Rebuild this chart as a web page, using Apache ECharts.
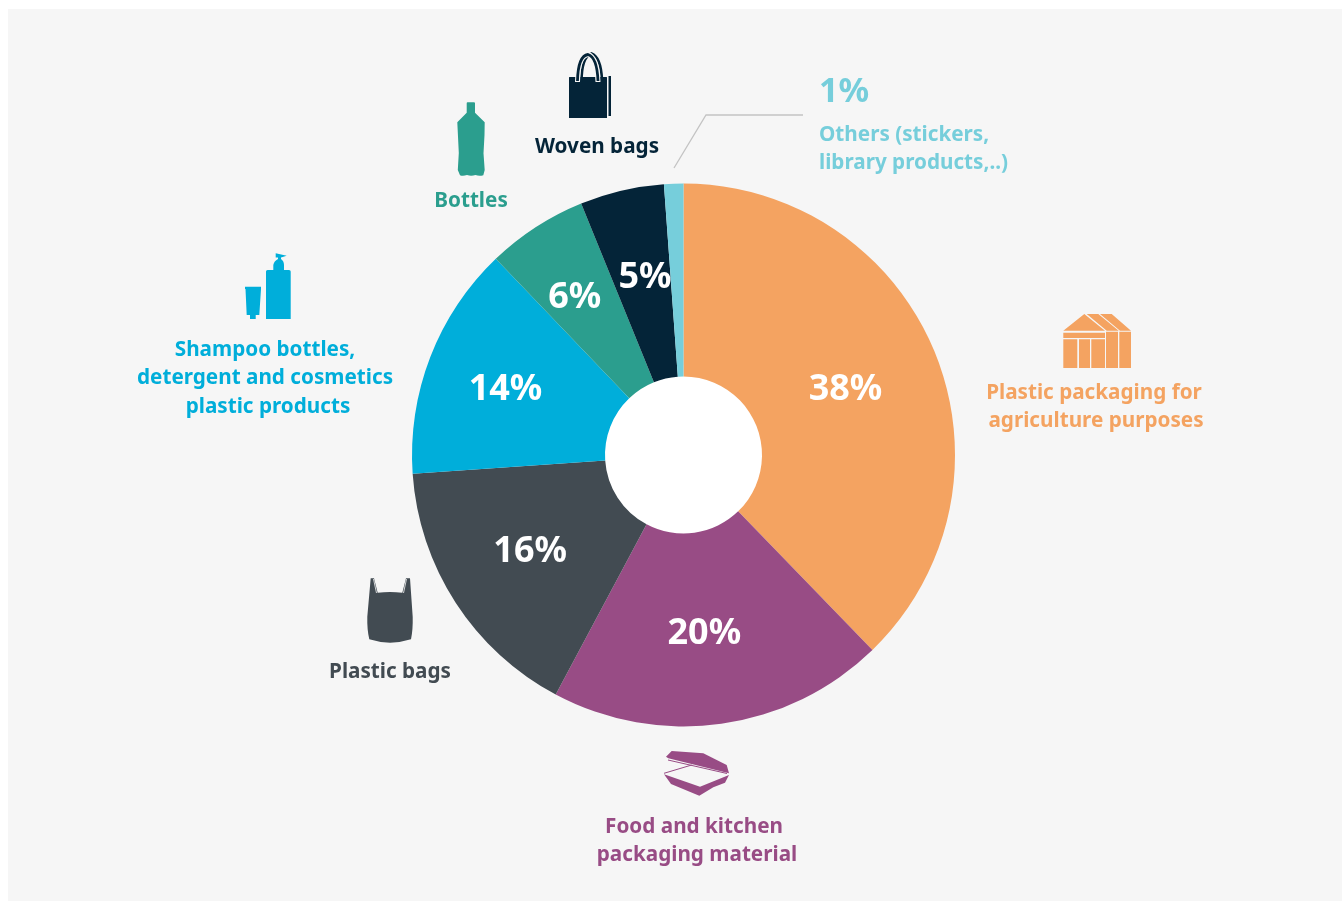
<!DOCTYPE html>
<html><head><meta charset="utf-8">
<style>html,body{margin:0;padding:0;background:#fff}#c{width:1342px;height:901px}</style>
<script src="https://cdn.jsdelivr.net/npm/echarts@6/dist/echarts.min.js"></script>
</head><body><div id="c"></div>
<script>
const categories = ['Plastic packaging for\nagriculture purposes','Food and kitchen\npackaging material','Plastic bags','Shampoo bottles,\ndetergent and cosmetics\nplastic products','Bottles','Woven bags','Others (stickers,\nlibrary products,..)'];
const shares = [37.75,20.05,16.1,13.95,6.0,5.0,1.15];
const colours = ['#F4A361','#984C85','#424B52','#00AEDA','#2B9E8E','#042438','#76CEDB'];
const labelNudges = [[-3,2],[-4,2],[-4,0],[-12,-1],[-12,-8],[2,-4],[0,0]];
const nameAnchors = [
  [[1094,393],[1096,421]],
  [[694,827],[697,855]],
  [[390,672]],
  [[265,350],[265,378],[268,407]],
  [[471,201]],
  [[597,147]],
  [[819,135],[819,163]]
];
const FONT = '"Noto Sans"';
const pct = v => Math.round(v) + '%';
const BG = '#F6F6F6';

const gfx = [
  {type:'rect',silent:true,z:-10,shape:{x:8,y:9,width:1334,height:892},style:{fill:BG}},
  {type:'circle',silent:true,z:-5,shape:{cx:683.5,cy:455,r:90},style:{fill:'#fff'}}
];
categories.forEach((c,i)=>{
  c.split('\n').forEach((line,j)=>{
    const a = nameAnchors[i][j];
    gfx.push({type:'text',x:a[0],y:a[1],style:{text:line,fill:colours[i],font:'700 20.7px '+FONT,align:i===6?'left':'center',verticalAlign:'middle'}});
  });
});
gfx.push({type:'text',x:819,y:92,style:{text:pct(shares[6]),fill:colours[6],font:'700 34px '+FONT,align:'left',verticalAlign:'middle'}});
gfx.push({type:'polyline',shape:{points:[[674,168],[706,115],[803,115]]},style:{stroke:'#C4C4C4',lineWidth:1.3,fill:null}});
let shapeId = 0;
const reg = d => { const n = 'icon' + (shapeId++); echarts.graphic.registerShape(n, echarts.graphic.extendPath(d, {})); return n; };
const p=(d,fill)=>({type:reg(d),style:{fill:fill}});
const s=(d,stroke,w)=>({type:reg(d),style:{fill:'none',stroke:stroke,lineWidth:w}});
// greenhouse
gfx.push(p('M1084.3 314L1063.3 330.7L1105 330.7Z M1086.7 314L1098.3 314L1118.7 330.7L1106.7 330.7Z M1100 314L1111.7 314L1131 330.7L1120 330.7Z M1063.3 332.7H1105V338H1063.3Z M1063.3 339.3H1077.3V368H1063.3Z M1079 339.3H1090V368H1079Z M1091.3 339.3H1105V368H1091.3Z M1106 331.7H1118V368H1106Z M1119.3 331.7H1131V368H1119.3Z',colours[0]));
// food box
gfx.push(p('M671.7 751L703.3 753.3L726.7 765L729 773.3L668.3 758.3L666 756.7Z M664 774.3L700 786.7L729 775L725 782.7L713.3 787.3L699.3 795.7L671 784Z',colours[1]));
gfx.push(s('M664 773.3L691.7 765 M668 760L727 773.5',colours[1],1));
// plastic bag
gfx.push(p('M370.7 578.3L374 578.3L377.7 592.7Q390 591.5 402.3 592.7L406 578.3L410 578.3L412.7 616.7Q413 630 411 639.3Q390 646 369.3 639.3Q367 630 367.3 616.7Z',colours[2]));
gfx.push(s('M373.5 579L376.5 593 M406.5 579L403.5 593',BG,0.8));
// shampoo
gfx.push(p('M266 271.5Q266 270 267.5 270H273.3V265Q274 261 278 259V257.5H275.7L275.7 253.3L286.7 255.7L281 257.5V259Q284 261 284 265V270H289Q290.7 270 290.7 271.5V319H266Z M245 286.7H261V289L259.3 315H255.7V319H250V315H246.7L245.5 289H245Z',colours[3]));
// bottle
gfx.push(p('M467.5 102.3H474Q475 102.3 475 103.5V112.7L484.7 122.3L484.5 135L483.5 153.3L484.7 170L483.3 175.3Q479 176.5 475.5 175Q471 176.5 467 175Q463 176.5 460 175.3L457.8 170L458.8 153L457.3 122.3L466.7 112.7V103.5Q466.7 102.3 467.5 102.3Z',colours[4]));
// woven bag
gfx.push(p('M608.5 76H611V116H608.5Z M569.5 77H606.5Q607 77 607 77.5V117.5Q607 118 606.5 118H569.5Q569 118 569 117.5V77.5Q569 77 569.5 77Z',colours[5]));
gfx.push(s('M581.5 82Q581.5 57 591.5 53.5Q601 57 602 80',colours[5],2.6));
gfx.push(s('M577.5 82Q578 56 588 54.5Q597 57 598 82',BG,5));
gfx.push(s('M577.5 81Q578 56 588 54.5Q597 57 598 81',colours[5],2.8));

const chart = echarts.init(document.getElementById('c'));
chart.setOption({
  animation:false,
  graphic:gfx,
  series:[{
    type:'pie',
    center:[683.5,455],
    radius:[78.5,271.5],
    startAngle:90,
    clockwise:true,
    silent:true,
    label:{position:'inside',color:'#fff',fontWeight:700,fontSize:36,fontFamily:'Noto Sans',formatter:o=>pct(o.value)},
    labelLine:{show:false},
    data:shares.map((v,i)=>({
      value:v,name:categories[i],
      itemStyle:{color:colours[i]},
      label:{show:i!==6,offset:labelNudges[i]}
    }))
  }]
});
</script></body></html>
